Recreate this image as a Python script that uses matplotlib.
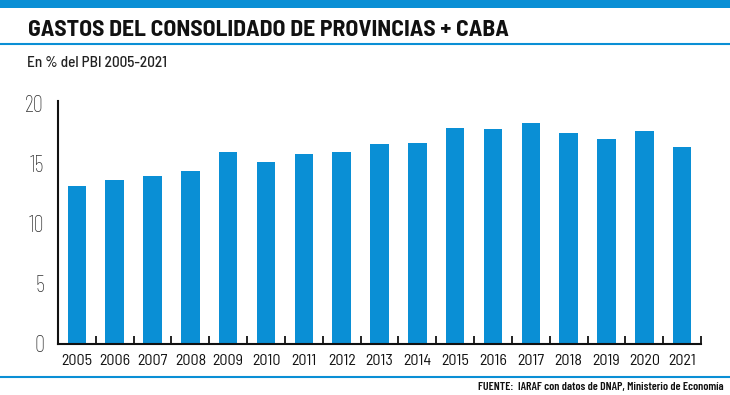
import matplotlib
matplotlib.use("Agg")
import matplotlib.pyplot as plt
from matplotlib.lines import Line2D
from matplotlib.patches import Rectangle

years = ["2005", "2006", "2007", "2008", "2009", "2010", "2011", "2012", "2013",
         "2014", "2015", "2016", "2017", "2018", "2019", "2020", "2021"]
gastos = [13.15, 13.65, 14.0, 14.4, 16.0, 15.15, 15.8, 16.0, 16.6,
          16.7, 17.95, 17.9, 18.4, 17.5, 17.0, 17.7, 16.4]
yticks = [0, 5, 10, 15, 20]

blue = "#0a8fd5"
narrow = ["Barlow Condensed", "Roboto Condensed", "DejaVu Sans"]
semi = ["Barlow Semi Condensed", "Barlow Condensed", "DejaVu Sans"]

fig = plt.figure(figsize=(7.3, 3.95), dpi=100)

# top band and separator lines
fig.add_artist(Rectangle((0, 1 - 8 / 395), 1, 8 / 395, transform=fig.transFigure,
                         color=blue, lw=0))
fig.add_artist(Line2D([0, 1], [1 - 44 / 395] * 2, transform=fig.transFigure,
                      color=blue, lw=1.5))
fig.add_artist(Line2D([0, 1], [1 - 377 / 395] * 2, transform=fig.transFigure,
                      color=blue, lw=1.5))

fig.text(28 / 730, 1 - 30 / 395, "GASTOS DEL CONSOLIDADO DE PROVINCIAS + CABA",
         family=semi, weight="bold", fontsize=17, va="center", ha="left", color="#111111")
fig.text(27 / 730, 1 - 63 / 395, "En % del PBI 2005-2021",
         family=semi, weight="medium", fontsize=11, va="center", ha="left", color="#222222")
fig.text(724 / 730, 1 - 387 / 395, "FUENTE:  IARAF con datos de DNAP, Ministerio de Economía",
         family=narrow, weight="semibold", fontsize=8.5, va="center", ha="right", color="#111111")

ax = fig.add_axes([58 / 730, 51 / 395, 643 / 730, 243 / 395])
x = list(range(len(years)))
ax.bar(x, gastos, width=0.49, color=blue)

ax.set_xlim(-0.5, len(years) - 0.5)
ax.set_ylim(0, 20.2)
ax.set_yticks(yticks)
ax.set_yticklabels([str(v) for v in yticks], family=narrow,
                   fontweight="light", fontsize=16.5, color="#333333")
ax.tick_params(axis="y", length=0, pad=10)

ax.set_xticks(x)
ax.set_xticklabels(years, family=semi, fontsize=11.5, color="#111111")
ax.tick_params(axis="x", which="major", length=0, pad=7)
ax.set_xticks([i - 0.5 for i in range(len(years) + 1)], minor=True)
ax.tick_params(axis="x", which="minor", direction="in", length=6, width=1.3, color="#111111")

for s in ["top", "right"]:
    ax.spines[s].set_visible(False)
for s in ["left", "bottom"]:
    ax.spines[s].set_linewidth(1.5)
    ax.spines[s].set_color("#111111")

fig.savefig("out.png", dpi=100)
